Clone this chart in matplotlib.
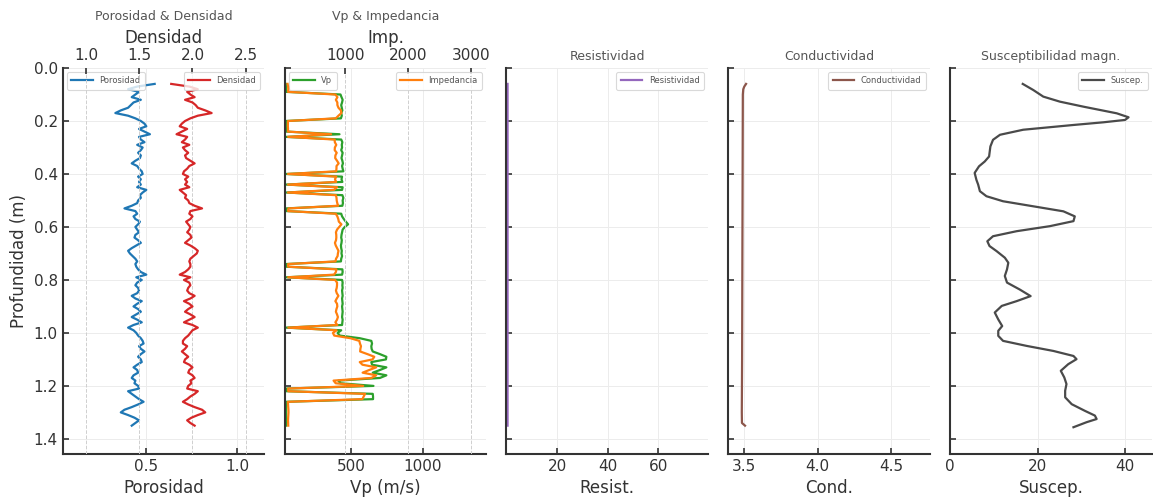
import matplotlib
matplotlib.use("Agg")
import matplotlib.pyplot as plt
import numpy as np

# ---------------- data ----------------
# log depth (m), sampled every 1 cm
depth = np.round(np.arange(0.06, 1.355, 0.01), 2)

porosidad = [
    0.546, 0.45, 0.40, 0.46, 0.44, 0.42, 0.47, 0.43, 0.415, 0.40,
    0.36, 0.33, 0.40, 0.44, 0.47, 0.49, 0.50, 0.46, 0.49, 0.52,
    0.46, 0.47, 0.49, 0.45, 0.48, 0.47, 0.455, 0.47, 0.465, 0.44,
    0.42, 0.45, 0.46, 0.475, 0.48, 0.455, 0.47, 0.46, 0.47, 0.45,
    0.50, 0.48, 0.465, 0.47, 0.455, 0.45, 0.42, 0.38, 0.44, 0.45,
    0.43, 0.44, 0.465, 0.455, 0.44, 0.45, 0.46, 0.44, 0.435, 0.455,
    0.47, 0.445, 0.42, 0.40, 0.41, 0.425, 0.44, 0.45, 0.44, 0.445,
    0.455, 0.47, 0.50, 0.445, 0.475, 0.45, 0.44, 0.455, 0.46, 0.45,
    0.42, 0.44, 0.475, 0.45, 0.43, 0.455, 0.47, 0.445, 0.42, 0.45,
    0.475, 0.43, 0.40, 0.43, 0.445, 0.455, 0.47, 0.48, 0.485, 0.46,
    0.47, 0.49, 0.47, 0.455, 0.47, 0.475, 0.45, 0.43, 0.45, 0.455,
    0.43, 0.42, 0.44, 0.435, 0.455, 0.46, 0.40, 0.42, 0.44, 0.46,
    0.485, 0.455, 0.42, 0.38, 0.36, 0.40, 0.435, 0.46, 0.44, 0.42,
]

densidad = [
    1.80, 1.97, 2.05, 1.95, 1.98, 2.02, 1.93, 2.00, 2.03, 2.05,
    2.12, 2.18, 2.05, 1.98, 1.93, 1.90, 1.88, 1.95, 1.90, 1.85,
    1.95, 1.93, 1.90, 1.97, 1.91, 1.93, 1.96, 1.93, 1.94, 1.98,
    2.02, 1.97, 1.95, 1.92, 1.91, 1.96, 1.93, 1.95, 1.93, 1.97,
    1.88, 1.91, 1.94, 1.93, 1.96, 1.97, 2.02, 2.09, 1.98, 1.97,
    2.00, 1.98, 1.94, 1.96, 1.98, 1.97, 1.95, 1.98, 1.99, 1.96,
    1.93, 1.98, 2.02, 2.05, 2.04, 2.01, 1.98, 1.97, 1.98, 1.98,
    1.96, 1.93, 1.88, 1.98, 1.92, 1.97, 1.98, 1.96, 1.95, 1.97,
    2.02, 1.98, 1.92, 1.97, 2.00, 1.96, 1.93, 1.98, 2.02, 1.97,
    1.92, 2.00, 2.05, 2.00, 1.98, 1.96, 1.93, 1.91, 1.91, 1.95,
    1.93, 1.90, 1.93, 1.96, 1.93, 1.92, 1.97, 2.00, 1.97, 1.96,
    2.00, 2.02, 1.98, 1.99, 1.96, 1.95, 2.05, 2.02, 1.98, 1.95,
    1.91, 1.96, 2.02, 2.09, 2.12, 2.05, 1.99, 1.95, 1.98, 2.02,
]

vp = [
    45, 45, 45, 45, 425, 432, 440, 436, 430, 434,
    438, 430, 434, 428, 45, 45, 45, 45, 45, 418,
    45, 430, 438, 434, 436, 430, 440, 436, 432, 438,
    442, 436, 440, 445, 45, 436, 432, 438, 45, 440,
    436, 45, 438, 445, 440, 442, 438, 45, 45, 430,
    436, 448, 462, 478, 455, 440, 436, 432, 430, 434,
    432, 428, 430, 434, 432, 436, 430, 428, 45, 45,
    438, 440, 436, 45, 436, 440, 438, 440, 436, 438,
    440, 436, 438, 440, 436, 438, 440, 438, 436, 440,
    438, 436, 45, 430, 405, 420, 560, 640, 645, 640,
    642, 650, 700, 745, 742, 640, 645, 745, 700, 650,
    745, 700, 410, 425, 655, 45, 45, 650, 652, 652,
    45, 45, 45, 45, 45, 45, 45, 45, 45, 45,
]

impedancia = [
    81, 89, 92, 88, 842, 873, 849, 872, 873, 890,
    929, 937, 890, 847, 87, 86, 85, 88, 86, 773,
    88, 830, 832, 855, 833, 830, 862, 841, 838, 867,
    893, 859, 858, 854, 86, 855, 834, 854, 87, 867,
    820, 86, 850, 859, 862, 871, 885, 94, 89, 847,
    872, 887, 896, 937, 901, 867, 850, 855, 856, 851,
    834, 847, 869, 890, 881, 876, 851, 843, 89, 89,
    858, 849, 820, 89, 837, 867, 867, 862, 850, 863,
    889, 863, 841, 867, 872, 858, 849, 867, 881, 867,
    841, 872, 92, 860, 802, 823, 1081, 1222, 1232, 1248,
    1239, 1235, 1351, 1460, 1432, 1229, 1271, 1490, 1379, 1274,
    1490, 1414, 812, 846, 1284, 88, 92, 1313, 1291, 1271,
    86, 88, 91, 94, 95, 92, 90, 88, 89, 91,
]

# resistivity / conductivity logs
elec_depth = [0.06, 0.07, 0.08, 0.10, 0.30, 0.50, 0.70, 0.90, 1.10, 1.30, 1.34, 1.35]
conductividad = [3.512, 3.500, 3.493, 3.490, 3.489, 3.488, 3.487, 3.486,
                 3.485, 3.483, 3.484, 3.505]
resistividad = [0.285, 0.286, 0.286, 0.287, 0.287, 0.287, 0.287, 0.287,
                0.287, 0.287, 0.287, 0.285]

# magnetic susceptibility log
sus_depth = [0.060, 0.083, 0.108, 0.127, 0.146, 0.171, 0.186, 0.196, 0.205,
             0.215, 0.233, 0.252, 0.271, 0.296, 0.334, 0.353, 0.371, 0.396,
             0.422, 0.440, 0.465, 0.484, 0.503, 0.522, 0.541, 0.560, 0.578,
             0.597, 0.616, 0.635, 0.654, 0.672, 0.691, 0.716, 0.735, 0.760,
             0.785, 0.810, 0.836, 0.861, 0.880, 0.898, 0.923, 0.949, 0.974,
             0.992, 1.011, 1.030, 1.049, 1.068, 1.087, 1.099, 1.118, 1.143,
             1.168, 1.193, 1.218, 1.243, 1.269, 1.294, 1.312, 1.325, 1.337,
             1.356]
susceptibilidad = [16.6, 19.0, 21.3, 25.1, 30.5, 38.1, 40.8, 40.0, 35.0,
                   28.2, 16.7, 11.4, 9.8, 9.2, 8.9, 7.9, 6.6, 5.6,
                   6.0, 6.4, 6.8, 8.3, 12.1, 19.0, 25.9, 28.5, 28.2,
                   22.8, 15.2, 9.8, 8.5, 9.0, 10.6, 12.5, 13.3, 13.0,
                   12.5, 13.0, 15.9, 18.4, 15.2, 11.8, 10.2, 11.0, 11.9,
                   11.0, 11.0, 12.1, 17.5, 23.6, 28.2, 28.9, 27.0, 25.3,
                   26.1, 26.6, 26.3, 26.3, 27.8, 30.8, 33.1, 33.5, 31.2,
                   28.2]

# ---------------- styling helpers ----------------
SPINE = "#333333"
TEXT = "#333333"
LW = 1.6


def base_style(ax):
    for s in ("top", "right"):
        ax.spines[s].set_visible(False)
    for s in ("left", "bottom"):
        ax.spines[s].set_color(SPINE)
        ax.spines[s].set_linewidth(1.5)
    ax.tick_params(direction="in", length=4, width=1.2, colors=SPINE,
                   labelcolor=TEXT, labelsize=11)
    ax.grid(True, color="#ececec", linewidth=0.7)
    ax.set_axisbelow(True)


def top_style(tw):
    for s in tw.spines.values():
        s.set_visible(False)
    tw.tick_params(axis="x", direction="in", length=4, width=1.2, colors=SPINE,
                   labelcolor=TEXT, labelsize=11)
    tw.grid(True, axis="x", linestyle="--", color="#cfcfcf", linewidth=0.7)
    tw.set_axisbelow(True)


def legend(ax, loc):
    leg = ax.legend(loc=loc, fontsize=6, frameon=True, fancybox=True,
                    handlelength=2.6, borderpad=0.5)
    leg.get_frame().set_edgecolor("#d0d0d0")
    leg.get_frame().set_linewidth(0.8)
    for t in leg.get_texts():
        t.set_color("#555555")


fig = plt.figure(figsize=(11.53, 4.99), dpi=100)
axes = fig.subplots(1, 5, sharey=True)
fig.subplots_adjust(left=0.0544, right=0.9989, bottom=0.0902, top=0.8637,
                    wspace=0.1007)

for ax in axes:
    base_style(ax)

axes[0].set_ylim(1.457, 0.0)
axes[0].set_yticks([0.0, 0.2, 0.4, 0.6, 0.8, 1.0, 1.2, 1.4])
axes[0].set_ylabel("Profundidad (m)", fontsize=12, color=TEXT)

title_kw = dict(fontsize=9, color="#555555")
label_kw = dict(fontsize=12, color=TEXT)

# --- Porosidad & Densidad ---
ax = axes[0]
ax.plot(porosidad, depth, color="#1f77b4", lw=LW, label="Porosidad")
ax.set_xlim(0.041, 1.148)
ax.set_xticks([0.5, 1.0])
ax.set_xlabel("Porosidad", **label_kw)
legend(ax, "upper left")
tw = ax.twiny()
top_style(tw)
tw.plot(densidad, depth, color="#d62728", lw=LW, label="Densidad")
tw.set_xlim(0.78, 2.675)
tw.set_xticks([1.0, 1.5, 2.0, 2.5])
tw.set_xlabel("Densidad", **label_kw)
legend(tw, "upper right")
ax.set_title("Porosidad & Densidad", **title_kw)

# --- Vp & Impedancia ---
ax = axes[1]
ax.plot(vp, depth, color="#2ca02c", lw=LW, label="Vp")
ax.set_xlim(35, 1441)
ax.set_xticks([500, 1000])
ax.set_xlabel("Vp (m/s)", **label_kw)
legend(ax, "upper left")
tw = ax.twiny()
top_style(tw)
tw.plot(impedancia, depth, color="#ff7f0e", lw=LW, label="Impedancia")
tw.set_xlim(33, 3239)
tw.set_xticks([1000, 2000, 3000])
tw.set_xlabel("Imp.", **label_kw)
legend(tw, "upper right")
ax.set_title("Vp & Impedancia", **title_kw)

# --- Resistividad ---
ax = axes[2]
ax.plot(resistividad, elec_depth, color="#9467bd", lw=LW, label="Resistividad")
ax.set_xlim(-0.16, 79.7)
ax.set_xticks([20, 40, 60])
ax.set_xlabel("Resist.", **label_kw)
legend(ax, "upper right")
ax.set_title("Resistividad", **title_kw)

# --- Conductividad ---
ax = axes[3]
ax.plot(conductividad, elec_depth, color="#8c564b", lw=LW, label="Conductividad")
ax.set_xlim(3.391, 4.765)
ax.set_xticks([3.5, 4.0, 4.5])
ax.set_xlabel("Cond.", **label_kw)
legend(ax, "upper right")
ax.set_title("Conductividad", **title_kw)

# --- Susceptibilidad magnetica ---
ax = axes[4]
ax.plot(susceptibilidad, sus_depth, color="#4a4a4a", lw=LW, label="Suscep.")
ax.set_xlim(0, 46.1)
ax.set_xticks([0, 20, 40])
ax.set_xlabel("Suscep.", **label_kw)
legend(ax, "upper right")
ax.set_title("Susceptibilidad magn.", **title_kw)

fig.savefig("out.png", dpi=100)
